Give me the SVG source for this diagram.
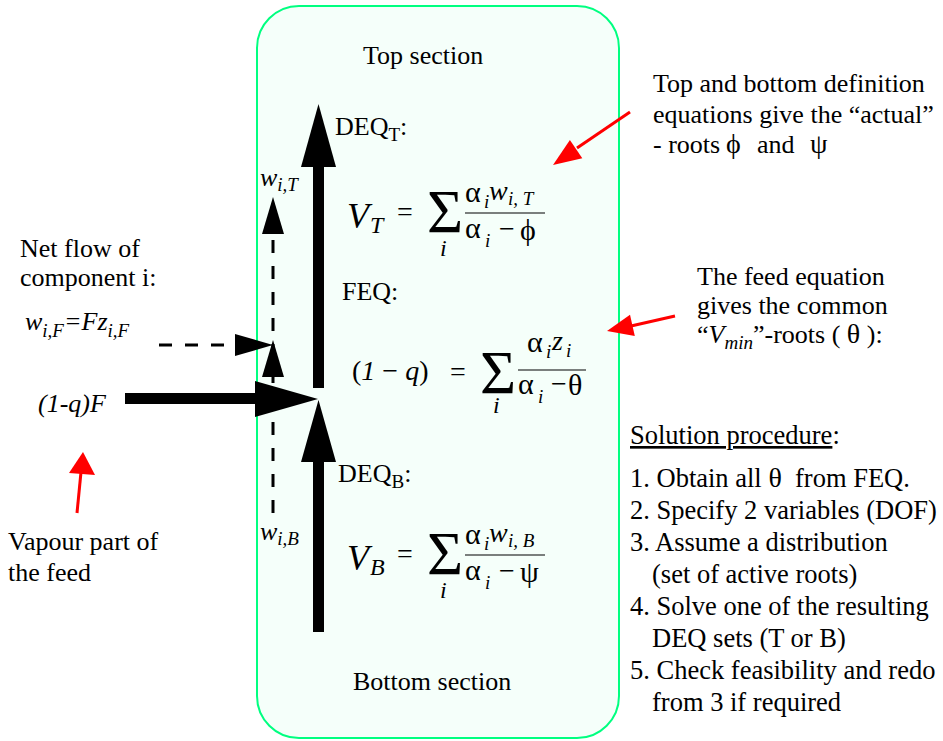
<svg xmlns="http://www.w3.org/2000/svg" width="943" height="741" viewBox="0 0 943 741">
<style>
text{font-family:"Liberation Serif","Times New Roman",serif;fill:#000;white-space:pre;}
.t{font-size:26px;}
.p{font-size:26.5px;}
.it{font-style:italic;}
.sub{font-size:19px;font-style:italic;}
.eqV{font-size:36px;font-style:italic;}
.eqS{font-size:24px;font-style:italic;}
.op{font-size:28px;}
.sig{font-size:62px;}
.gr{font-size:30px;}
.blk{fill:#000;}
.red{fill:#ff0000;}
.redl{stroke:#ff0000;stroke-width:3;fill:none;}
.dash{stroke:#000;stroke-width:3;fill:none;stroke-dasharray:13 13;}
.frac{stroke:#000;stroke-width:1.2;}
</style>
<g id="column">
<rect x="257" y="6" width="362" height="732" rx="42" ry="42" fill="#f5fffa" stroke="#00ff80" stroke-width="2"/>
<text class="t" x="363" y="64">Top section</text>
<text class="t" x="353" y="690">Bottom section</text>
</g>
<g id="connectors">
<rect class="blk" x="313" y="160" width="11" height="228"/>
<polygon class="blk" points="318.5,104 301,167 336,167"/>
<rect class="blk" x="313" y="455" width="11" height="177"/>
<polygon class="blk" points="318.5,400 301,462 336,462"/>
<rect class="blk" x="125" y="393" width="135" height="11"/>
<polygon class="blk" points="255,381 318,399 255,417"/>
<line class="dash" x1="273" y1="513" x2="273" y2="232"/>
<polygon class="blk" points="273,197 262,234 284,234"/>
<polygon class="blk" points="273,340 262,377 284,377"/>
<line class="dash" x1="159" y1="345" x2="238" y2="345"/>
<polygon class="blk" points="235,334 273,345 235,356"/>
<line class="redl" x1="630" y1="112" x2="577" y2="148"/>
<polygon class="red" points="553,165 582.3,158.2 569.9,140"/>
<line class="redl" x1="675" y1="316" x2="631" y2="326"/>
<polygon class="red" points="607,331 634.8,336.1 630,314.7"/>
<line class="redl" x1="77" y1="513" x2="81" y2="472"/>
<polygon class="red" points="83,452 69,473 95,475"/>
</g>
<g id="deq-top">
<text class="t" x="335" y="135">DEQ<tspan font-size="19" dy="6">T</tspan><tspan dy="-6">:</tspan></text>
<text class="eqV" x="347" y="228">V</text>
<text class="eqS" x="370" y="233">T</text>
<text class="op" x="397" y="221">=</text>
<text class="sig" x="427" y="232">Σ</text>
<text class="eqS" x="440" y="256">i</text>
<line class="frac" x1="465" y1="213" x2="545" y2="213"/>
<text class="gr" x="465" y="202">α</text>
<text class="sub" x="484" y="208">i</text>
<text class="op it" x="489" y="200">w</text>
<text class="sub" x="508" y="205">i, T</text>
<text class="gr" x="465" y="238">α</text>
<text class="sub" x="485" y="247">i</text>
<text class="op" x="499" y="238">−</text>
<text class="gr" x="520" y="240">ϕ</text>
</g>
<g id="feq">
<text class="t" x="342" y="300">FEQ:</text>
<text class="op" x="352" y="380">(<tspan class="it">1</tspan> − <tspan class="it">q</tspan>)</text>
<text class="op" x="450" y="381">=</text>
<text class="sig" x="480" y="393" font-size="52">Σ</text>
<text class="eqS" x="493" y="413">i</text>
<line class="frac" x1="518" y1="370" x2="586" y2="370"/>
<text class="gr" x="527" y="352">α</text>
<text class="sub" x="546" y="358">i</text>
<text class="op it" x="552" y="350">z</text>
<text class="sub" x="566" y="357">i</text>
<text class="gr" x="518" y="394">α</text>
<text class="sub" x="538" y="403">i</text>
<text class="op" x="551" y="393">−</text>
<text class="gr" x="568" y="395">θ</text>
</g>
<g id="deq-bottom">
<text class="t" x="338" y="482">DEQ<tspan font-size="19" dy="6">B</tspan><tspan dy="-6">:</tspan></text>
<text class="eqV" x="347" y="570">V</text>
<text class="eqS" x="370" y="575">B</text>
<text class="op" x="397" y="563">=</text>
<text class="sig" x="427" y="574">Σ</text>
<text class="eqS" x="440" y="598">i</text>
<line class="frac" x1="465" y1="555" x2="545" y2="555"/>
<text class="gr" x="465" y="544">α</text>
<text class="sub" x="484" y="550">i</text>
<text class="op it" x="489" y="542">w</text>
<text class="sub" x="508" y="547">i, B</text>
<text class="gr" x="465" y="580">α</text>
<text class="sub" x="485" y="589">i</text>
<text class="op" x="499" y="580">−</text>
<text class="gr" x="520" y="582">ψ</text>
</g>
<g id="flows">
<text class="t it" x="260" y="186">w<tspan font-size="19" dy="5">i,T</tspan></text>
<text class="t it" x="260" y="540">w<tspan font-size="19" dy="5">i,B</tspan></text>
</g>
<g id="net-flow-label">
<text class="t" x="20" y="257">Net flow of</text>
<text class="t" x="20" y="286">component i:</text>
<text class="t it" x="25" y="330">w<tspan font-size="19" dy="7">i,F</tspan><tspan dy="-7">=Fz</tspan><tspan font-size="19" dy="7">i,F</tspan></text>
<text class="t it" x="38" y="412">(1-q)F</text>
</g>
<g id="vapour-label">
<text class="t" x="8" y="550">Vapour part of</text>
<text class="t" x="8" y="581">the feed</text>
</g>
<g id="deq-note">
<text class="t" x="653" y="92">Top and bottom definition</text>
<text class="t" x="653" y="123">equations give the “actual”</text>
<text class="t" x="653" y="153">- roots <tspan font-size="28" x="726">ϕ</tspan><tspan x="757">and</tspan><tspan font-size="28" x="810">ψ</tspan></text>
</g>
<g id="feq-note">
<text class="t" x="697" y="285">The feed equation</text>
<text class="t" x="697" y="314">gives the common</text>
<text class="t" x="697" y="343">“<tspan class="it">V</tspan><tspan class="it" font-size="19" dy="6">min</tspan><tspan dy="-6">”-roots ( </tspan><tspan font-size="28">θ</tspan> ):</text>
</g>
<g id="procedure">
<text class="p" x="630" y="444"><tspan text-decoration="underline">Solution procedure</tspan>:</text>
<text class="p" x="630" y="487">1. Obtain all <tspan font-size="28">θ</tspan>  from FEQ.</text>
<text class="p" x="630" y="519">2. Specify 2 variables (DOF)</text>
<text class="p" x="630" y="551">3. Assume a distribution</text>
<text class="p" x="652" y="583">(set of active roots)</text>
<text class="p" x="630" y="615">4. Solve one of the resulting</text>
<text class="p" x="652" y="647">DEQ sets (T or B)</text>
<text class="p" x="630" y="679">5. Check feasibility and redo</text>
<text class="p" x="652" y="711">from 3 if required</text>
</g>
</svg>
